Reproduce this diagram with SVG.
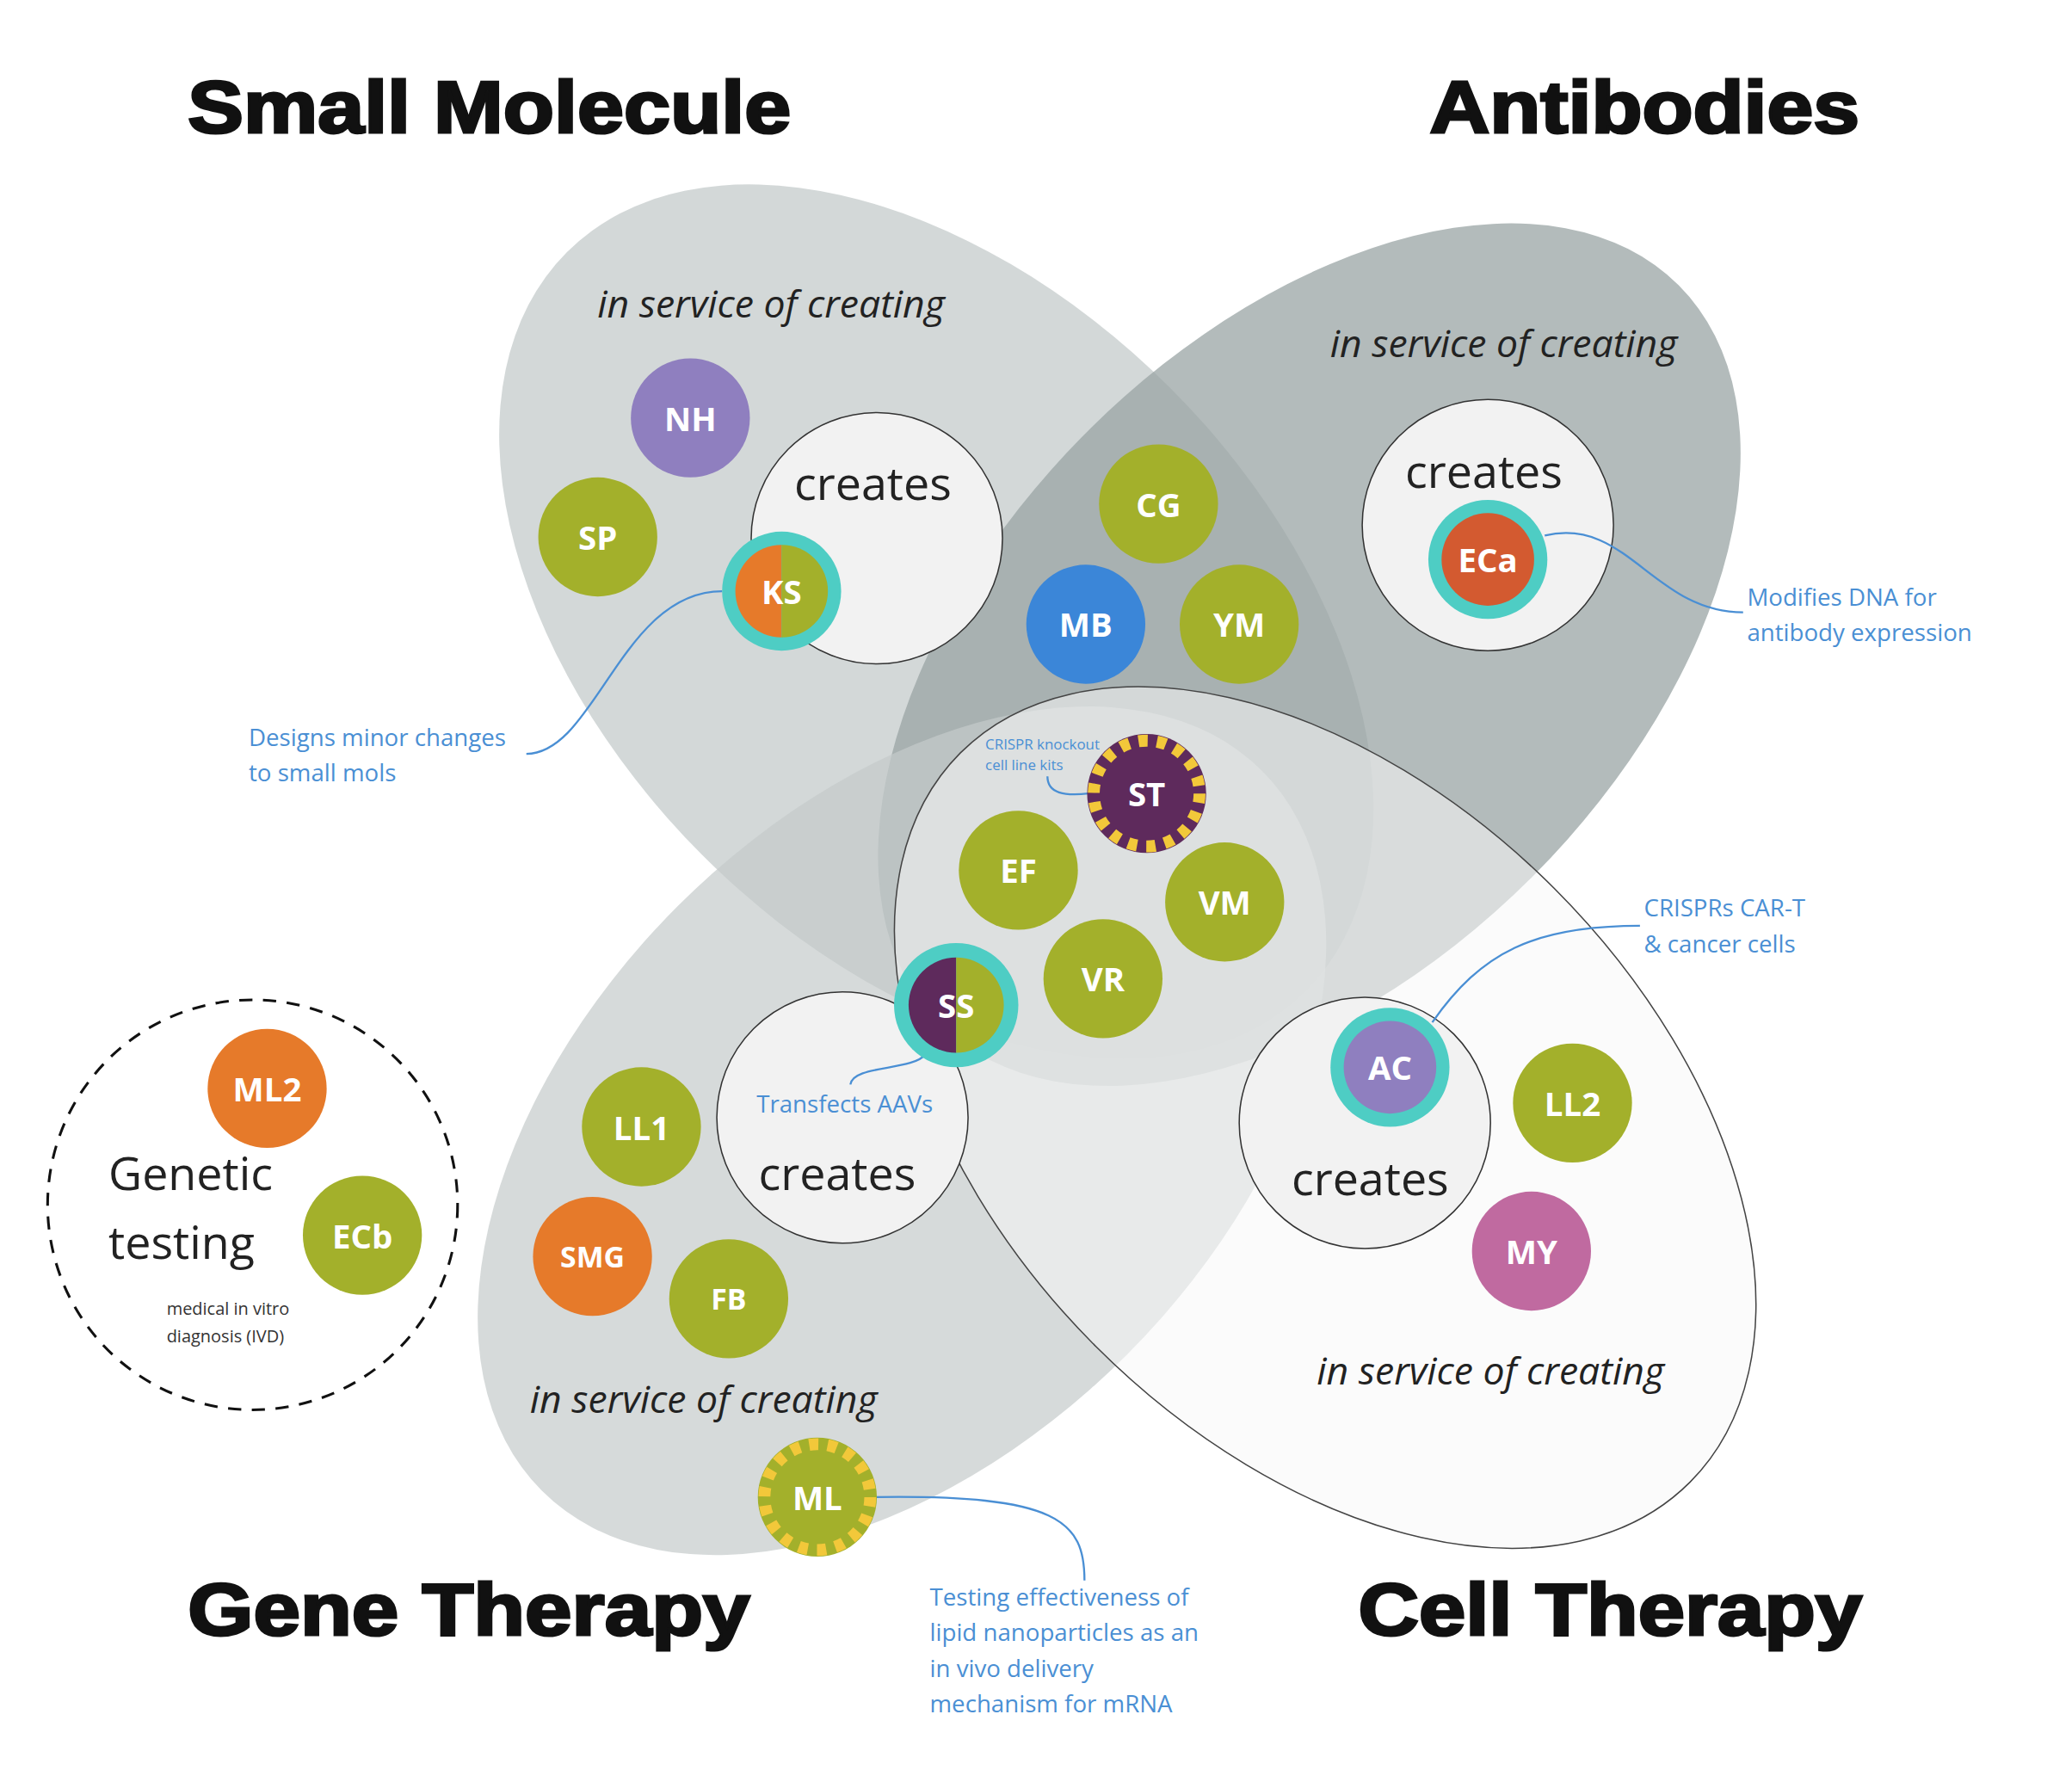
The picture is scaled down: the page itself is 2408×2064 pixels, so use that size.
<svg xmlns="http://www.w3.org/2000/svg" width="2408" height="2064" viewBox="0 0 2408 2064">
<style>
.title{font-family:"Liberation Sans",Arial,sans-serif;font-weight:900;font-size:56px;fill:#111;stroke:#111;stroke-width:2px}
.isc{font-family:"Open Sans","Noto Sans",sans-serif;font-style:italic;font-size:29px;fill:#222;text-anchor:middle}
.cr{font-family:"Open Sans","Noto Sans",sans-serif;font-size:35px;fill:#222;text-anchor:middle}
.lbl{font-family:"Open Sans","Noto Sans",sans-serif;font-weight:bold;font-size:25px;fill:#fff;text-anchor:middle;dominant-baseline:central}
.ann{font-family:"Open Sans","Noto Sans",sans-serif;font-size:18px;fill:#4a8fd4}
.conn{fill:none;stroke:#4a8fd4;stroke-width:1.5}
.cc{fill:#f2f2f2;stroke:#333;stroke-width:1}
.ol{fill:#a3b02b}
.ring{fill:#4ecdc4}
</style>
<defs>
<clipPath id="lh"><rect x="-50" y="-50" width="50" height="100"/></clipPath>
<clipPath id="rh"><rect x="0" y="-50" width="50" height="100"/></clipPath>
</defs>
<rect width="2408" height="2064" fill="#fff"/>
<g transform="scale(1.537)">
<g id="titles">
<text class="title" x="142" y="100" textLength="456" lengthAdjust="spacingAndGlyphs">Small Molecule</text>
<text class="title" x="1081" y="100" textLength="325" lengthAdjust="spacingAndGlyphs">Antibodies</text>
<text class="title" x="142" y="1236" textLength="425" lengthAdjust="spacingAndGlyphs">Gene Therapy</text>
<text class="title" x="1027" y="1236" textLength="381" lengthAdjust="spacingAndGlyphs">Cell Therapy</text>
</g>
<g id="regions">
<ellipse cx="708" cy="470" rx="395" ry="250" transform="rotate(45 708 470)" fill="#c4cbcb" fill-opacity="0.75"/>
<ellipse cx="990" cy="495" rx="395" ry="238" transform="rotate(-45 990 495)" fill="#9aa4a4" fill-opacity="0.75"/>
<ellipse cx="682" cy="855" rx="385" ry="240" transform="rotate(-45 682 855)" fill="#c4cbcb" fill-opacity="0.7"/>
<ellipse cx="1002" cy="845" rx="390" ry="245" transform="rotate(45 1002 845)" fill="#f7f7f7" fill-opacity="0.55" stroke="#444" stroke-width="1"/>
<circle cx="191" cy="911" r="155" fill="none" stroke="#111" stroke-width="2" stroke-dasharray="10 8"/>
</g>
<g id="labels">
<text class="isc" x="583" y="240">in service of creating</text>
<text class="isc" x="1137" y="270">in service of creating</text>
<text class="isc" x="532" y="1068">in service of creating</text>
<text class="isc" x="1127" y="1047">in service of creating</text>
<text x="82" y="900" style="font-family:'Open Sans',sans-serif;font-size:35px;fill:#222">Genetic</text>
<text x="82" y="952" style="font-family:'Open Sans',sans-serif;font-size:35px;fill:#222">testing</text>
<text x="126" y="994" style="font-family:'Open Sans',sans-serif;font-size:13px;fill:#333">medical in vitro</text>
<text x="126" y="1015" style="font-family:'Open Sans',sans-serif;font-size:13px;fill:#333">diagnosis (IVD)</text>
</g>
<g id="creates">
<circle class="cc" cx="663" cy="407" r="95"/><text class="cr" x="660" y="378">creates</text>
<circle class="cc" cx="1125" cy="397" r="95"/><text class="cr" x="1122" y="369">creates</text>
<circle class="cc" cx="637" cy="845" r="95"/><text class="cr" x="633" y="900">creates</text>
<circle class="cc" cx="1032" cy="849" r="95"/><text class="cr" x="1036" y="904">creates</text>
</g>
<g id="connectors">
<path class="conn" d="M398,570 C450,570 470,447 546,447"/>
<path class="conn" d="M1168,405 C1230,390 1250,463 1318,463"/>
<path class="conn" d="M792,587 C792,600 805,602 823,600"/>
<path class="conn" d="M1083,773 C1120,720 1160,700 1240,700"/>
<path class="conn" d="M700,797 C690,810 645,805 643,820"/>
<path class="conn" d="M662,1132 C800,1130 820,1150 820,1195"/>
</g>
<g id="annotations">
<text class="ann" x="188" y="564">Designs minor changes</text>
<text class="ann" x="188" y="591">to small mols</text>
<text class="ann" x="1321" y="458">Modifies DNA for</text>
<text class="ann" x="1321" y="485">antibody expression</text>
<text class="ann" x="745" y="567" style="font-size:11px">CRISPR knockout</text>
<text class="ann" x="745" y="582" style="font-size:11px">cell line kits</text>
<text class="ann" x="1243" y="693">CRISPRs CAR-T</text>
<text class="ann" x="1243" y="720">&amp; cancer cells</text>
<text class="ann" x="572" y="841">Transfects AAVs</text>
<text class="ann" x="703" y="1214">Testing effectiveness of</text>
<text class="ann" x="703" y="1241">lipid nanoparticles as an</text>
<text class="ann" x="703" y="1268">in vivo delivery</text>
<text class="ann" x="703" y="1295">mechanism for mRNA</text>
</g>
<g id="NH"><circle cx="522" cy="316" r="45" fill="#8f7fbf"/><text class="lbl" x="522" y="316">NH</text></g>
<g id="SP"><circle class="ol" cx="452" cy="406" r="45"/><text class="lbl" x="452" y="406">SP</text></g>
<g id="KS" transform="translate(591,447)"><circle class="ring" r="45"/><circle r="35" fill="#e67a2a" clip-path="url(#lh)"/><circle r="35" fill="#a3b02b" clip-path="url(#rh)"/><text class="lbl" x="0" y="0">KS</text></g>
<g id="CG"><circle class="ol" cx="876" cy="381" r="45"/><text class="lbl" x="876" y="381">CG</text></g>
<g id="MB"><circle cx="821" cy="472" r="45" fill="#3b86d8"/><text class="lbl" x="821" y="472">MB</text></g>
<g id="YM"><circle class="ol" cx="937" cy="472" r="45"/><text class="lbl" x="937" y="472">YM</text></g>
<g id="ECa"><circle class="ring" cx="1125" cy="423" r="45"/><circle cx="1125" cy="423" r="35" fill="#d35a30"/><text class="lbl" x="1125" y="423">ECa</text></g>
<g id="ST"><circle cx="867" cy="600" r="45" fill="#5e2a5c"/><circle cx="867" cy="600" r="40" fill="none" stroke="#f2c83a" stroke-width="9" stroke-dasharray="7 7"/><text class="lbl" x="867" y="600">ST</text></g>
<g id="EF"><circle class="ol" cx="770" cy="658" r="45"/><text class="lbl" x="770" y="658">EF</text></g>
<g id="VM"><circle class="ol" cx="926" cy="682" r="45"/><text class="lbl" x="926" y="682">VM</text></g>
<g id="VR"><circle class="ol" cx="834" cy="740" r="45"/><text class="lbl" x="834" y="740">VR</text></g>
<g id="SS" transform="translate(723,760)"><circle class="ring" r="47"/><circle r="36" fill="#5e2a5c" clip-path="url(#lh)"/><circle r="36" fill="#a3b02b" clip-path="url(#rh)"/><text class="lbl" x="0" y="0">SS</text></g>
<g id="AC"><circle class="ring" cx="1051" cy="807" r="45"/><circle cx="1051" cy="807" r="35" fill="#8f7fbf"/><text class="lbl" x="1051" y="807">AC</text></g>
<g id="LL2"><circle class="ol" cx="1189" cy="834" r="45"/><text class="lbl" x="1189" y="834">LL2</text></g>
<g id="MY"><circle cx="1158" cy="946" r="45" fill="#c06aa0"/><text class="lbl" x="1158" y="946">MY</text></g>
<g id="LL1"><circle class="ol" cx="485" cy="852" r="45"/><text class="lbl" x="485" y="852">LL1</text></g>
<g id="SMG"><circle cx="448" cy="950" r="45" fill="#e67a2a"/><text class="lbl" x="448" y="950" style="font-size:22px">SMG</text></g>
<g id="FB"><circle class="ol" cx="551" cy="982" r="45"/><text class="lbl" x="551" y="982" style="font-size:22px">FB</text></g>
<g id="ML"><circle class="ol" cx="618" cy="1132" r="45"/><circle cx="618" cy="1132" r="40" fill="none" stroke="#f2c83a" stroke-width="9" stroke-dasharray="7 7"/><text class="lbl" x="618" y="1132">ML</text></g>
<g id="ML2"><circle cx="202" cy="823" r="45" fill="#e67a2a"/><text class="lbl" x="202" y="823">ML2</text></g>
<g id="ECb"><circle class="ol" cx="274" cy="934" r="45"/><text class="lbl" x="274" y="934">ECb</text></g>
</g>
</svg>
